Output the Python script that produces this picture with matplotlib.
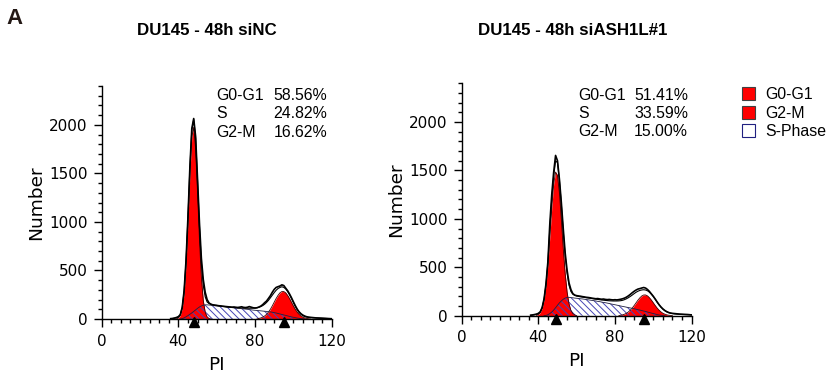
import numpy as np
import matplotlib
matplotlib.use('Agg')
import matplotlib.pyplot as plt
from matplotlib.patches import Patch
from matplotlib.ticker import MultipleLocator

plt.rcParams['font.family'] = ['Liberation Sans', 'DejaVu Sans']
plt.rcParams['hatch.linewidth'] = 0.7

# ---- data (PI channel -> cell count) ----
titles = ['DU145 - 48h siNC', 'DU145 - 48h siASH1L#1']
phases = ['G0-G1', 'S', 'G2-M']
pct_nc = [58.56, 24.82, 16.62]
pct_ash = [51.41, 33.59, 15.00]
legend_labels = ['G0-G1', 'G2-M', 'S-Phase']

# siNC: measured histogram and model sum (channels 36..120)
nc_hist_start = 36
nc_data = [4, 6, 10, 16, 24, 45, 120, 292, 605, 1050,
           1560, 1960, 2065, 1880, 1440, 990, 625, 405, 275, 200,
           165, 152, 146, 142, 140, 137, 135, 132, 130, 128,
           126, 124, 122, 124, 121, 119, 122, 126, 120, 118,
           121, 128, 122, 116, 113, 116, 123, 133, 148, 168,
           185, 212, 240, 275, 305, 325, 333, 340, 352, 345,
           318, 292, 258, 220, 178, 138, 102, 74, 54, 40,
           30, 23, 19, 17, 15, 13, 11, 10, 9, 8,
           7, 6, 5, 4, 3]
nc_fit = [3, 5, 8, 12, 20, 45, 115, 285, 595, 1045,
          1550, 1945, 2055, 1860, 1425, 955, 575, 345, 228, 175,
          160, 152, 147, 143, 140, 137, 134, 131, 129, 126,
          124, 122, 120, 118, 116, 115, 114, 113, 112, 111,
          111, 111, 111, 112, 113, 116, 121, 128, 138, 152,
          170, 192, 218, 245, 272, 296, 314, 325, 332, 326,
          310, 283, 250, 212, 170, 130, 96, 68, 48, 34,
          25, 20, 17, 15, 13, 12, 11, 10, 9, 8,
          7, 6, 5, 4, 3]
nc_g1_start = 39
nc_g1 = [0, 10, 36, 107, 268, 566, 1002, 1495, 1873, 1975,
         1747, 1301, 814, 428, 189, 70, 22, 6, 0]
nc_g2_start = 81
nc_g2 = [0, 6, 11, 19, 31, 48, 71, 100, 135, 173,
         211, 244, 270, 283, 283, 270, 244, 211, 173, 135,
         100, 71, 48, 31, 19, 11, 6, 3, 0]
nc_s_start = 41
nc_s = [0, 4, 12, 23, 35, 49, 63, 78, 94, 110,
        124, 135, 142, 146, 146, 144, 142, 139, 137, 135,
        133, 131, 128, 126, 124, 122, 120, 117, 115, 113,
        111, 109, 106, 104, 102, 100, 97, 95, 92, 90,
        88, 86, 84, 82, 80, 78, 75, 73, 70, 66,
        62, 57, 52, 47, 42, 37, 32, 27, 22, 18,
        14, 10, 7, 4, 2, 0]
nc_peaks = [48.2, 95.1]

# siASH1L#1
ash_hist_start = 36
ash_data = [5, 8, 12, 16, 24, 40, 85, 175, 330, 560,
            950, 1250, 1480, 1655, 1600, 1410, 1170, 900, 650, 470,
            340, 270, 228, 213, 207, 204, 201, 197, 194, 190,
            188, 185, 181, 178, 175, 177, 173, 170, 172, 168,
            166, 168, 165, 163, 165, 163, 166, 170, 175, 182,
            192, 205, 220, 237, 252, 265, 275, 280, 286, 291,
            285, 270, 250, 225, 200, 172, 142, 114, 90, 70,
            54, 42, 33, 27, 24, 22, 20, 18, 16, 15,
            14, 13, 12, 10, 8]
ash_fit = [4, 6, 10, 14, 20, 38, 82, 170, 320, 550,
           900, 1200, 1440, 1600, 1580, 1400, 1150, 870, 620, 440,
           315, 250, 222, 210, 203, 199, 195, 192, 189, 186,
           183, 180, 177, 174, 171, 168, 165, 162, 160, 158,
           156, 154, 153, 152, 152, 152, 153, 155, 159, 166,
           175, 186, 199, 213, 228, 242, 253, 261, 266, 268,
           265, 257, 242, 222, 198, 170, 140, 112, 88, 68,
           52, 40, 32, 26, 22, 19, 17, 15, 14, 13,
           12, 11, 10, 9, 8]
ash_g1_start = 39
ash_g1 = [4, 12, 32, 77, 164, 313, 533, 814, 1110, 1356,
          1483, 1450, 1269, 994, 696, 437, 245, 123, 55, 22,
          8, 0]
ash_g2_start = 82
ash_g2 = [0, 5, 9, 16, 25, 39, 57, 79, 105, 133,
          161, 185, 204, 214, 214, 204, 185, 161, 133, 105,
          79, 57, 39, 25, 16, 9, 5, 3, 0]
ash_s_start = 43
ash_s = [0, 3, 10, 22, 38, 58, 82, 108, 132, 152,
         170, 182, 188, 189, 187, 185, 182, 180, 178, 175,
         173, 170, 167, 164, 161, 158, 155, 152, 148, 145,
         141, 137, 134, 130, 126, 121, 117, 113, 109, 105,
         100, 96, 92, 88, 84, 80, 76, 72, 67, 62,
         58, 53, 48, 43, 38, 32, 27, 22, 17, 12,
         8, 5, 2, 0]
ash_peaks = [49.0, 95.3]


def chan(start, values):
    return np.arange(start, start + len(values))


RED = '#ff0000'
HATCH_BLUE = '#4646b4'
HATCH = '\\\\\\\\\\'
WIDE = ['DejaVu Sans']


def draw_panel(ax, data_start, data, fit, g1_start, g1, g2_start, g2,
               s_start, s, peaks, pcts, tx, ty):
    ax.fill_between(chan(g1_start, g1), g1, color=RED, lw=0)
    ax.plot(chan(g1_start, g1), g1, color='#400000', lw=0.6)
    ax.fill_between(chan(g2_start, g2), g2, color=RED, lw=0)
    ax.plot(chan(g2_start, g2), g2, color='#400000', lw=0.6)
    ax.fill_between(chan(s_start, s), s, facecolor='none',
                    edgecolor=HATCH_BLUE, lw=0, hatch=HATCH)
    ax.plot(chan(s_start, s), s, color='#202040', lw=0.6)
    ax.plot(chan(data_start, fit), fit, color='black', lw=0.8)
    ax.plot(chan(data_start, data), data, color='black', lw=1.2)

    ax.plot(peaks, [-0.014] * len(peaks), ls='none', marker='^', ms=6.5,
            color='black', transform=ax.get_xaxis_transform(), clip_on=False)

    ax.set_xlim(0, 120)
    ax.set_ylim(0, 2400)
    ax.xaxis.set_major_locator(MultipleLocator(40))
    ax.xaxis.set_minor_locator(MultipleLocator(5))
    ax.yaxis.set_major_locator(MultipleLocator(500))
    ax.yaxis.set_minor_locator(MultipleLocator(100))
    ax.tick_params(which='major', length=5.5, width=1.0, direction='out')
    ax.tick_params(which='minor', length=3, width=1.0, direction='out')
    ax.tick_params(axis='y', pad=4.5)
    ax.tick_params(axis='x', pad=5)
    for lab in ax.get_xticklabels() + ax.get_yticklabels():
        lab.set_family(WIDE)
        lab.set_fontsize(11)
    for side in ['top', 'right']:
        ax.spines[side].set_visible(False)
    for side in ['left', 'bottom']:
        ax.spines[side].set_linewidth(1.0)
    ax.set_xlabel('PI', fontsize=13.3, family=WIDE, labelpad=5)
    ax.set_ylabel('Number', fontsize=13.3, family=WIDE, labelpad=3)

    for k, (ph, p) in enumerate(zip(phases, pcts)):
        yy = ty - k * 0.078
        ax.text(tx, yy, ph, transform=ax.transAxes, fontsize=11.4,
                ha='left', va='center')
        ax.text(tx + 0.48, yy, f'{p:.2f}%', transform=ax.transAxes,
                fontsize=11.4, ha='right', va='center')


fig = plt.figure(figsize=(8.29, 3.81), dpi=100)
ax1 = fig.add_axes([0.1227, 0.1627, 0.2774, 0.6116])
ax2 = fig.add_axes([0.5569, 0.1714, 0.2774, 0.6100])

draw_panel(ax1, nc_hist_start, nc_data, nc_fit, nc_g1_start, nc_g1,
           nc_g2_start, nc_g2, nc_s_start, nc_s, nc_peaks, pct_nc, 0.50, 0.958)
draw_panel(ax2, ash_hist_start, ash_data, ash_fit, ash_g1_start, ash_g1,
           ash_g2_start, ash_g2, ash_s_start, ash_s, ash_peaks, pct_ash, 0.505, 0.948)

fig.text(0.249, 0.921, titles[0], ha='center', va='center', fontsize=12.2, fontweight='bold')
fig.text(0.691, 0.921, titles[1], ha='center', va='center', fontsize=12.2, fontweight='bold')
fig.text(0.008, 0.952, 'A', ha='left', va='center', fontsize=16, fontweight='bold',
         color='#231815')

handles = [Patch(facecolor=RED, edgecolor='#404040', lw=0.8),
           Patch(facecolor=RED, edgecolor='#404040', lw=0.8),
           Patch(facecolor='white', edgecolor='#202080', lw=0.8, hatch='\\')]
fig.legend(handles, legend_labels, loc='upper left', bbox_to_anchor=(0.895, 0.771),
           frameon=False, fontsize=11.4, handlelength=0.85, handleheight=0.85,
           handletextpad=0.62, labelspacing=0.22, borderpad=0, borderaxespad=0)

fig.savefig('out.png', dpi=100)
